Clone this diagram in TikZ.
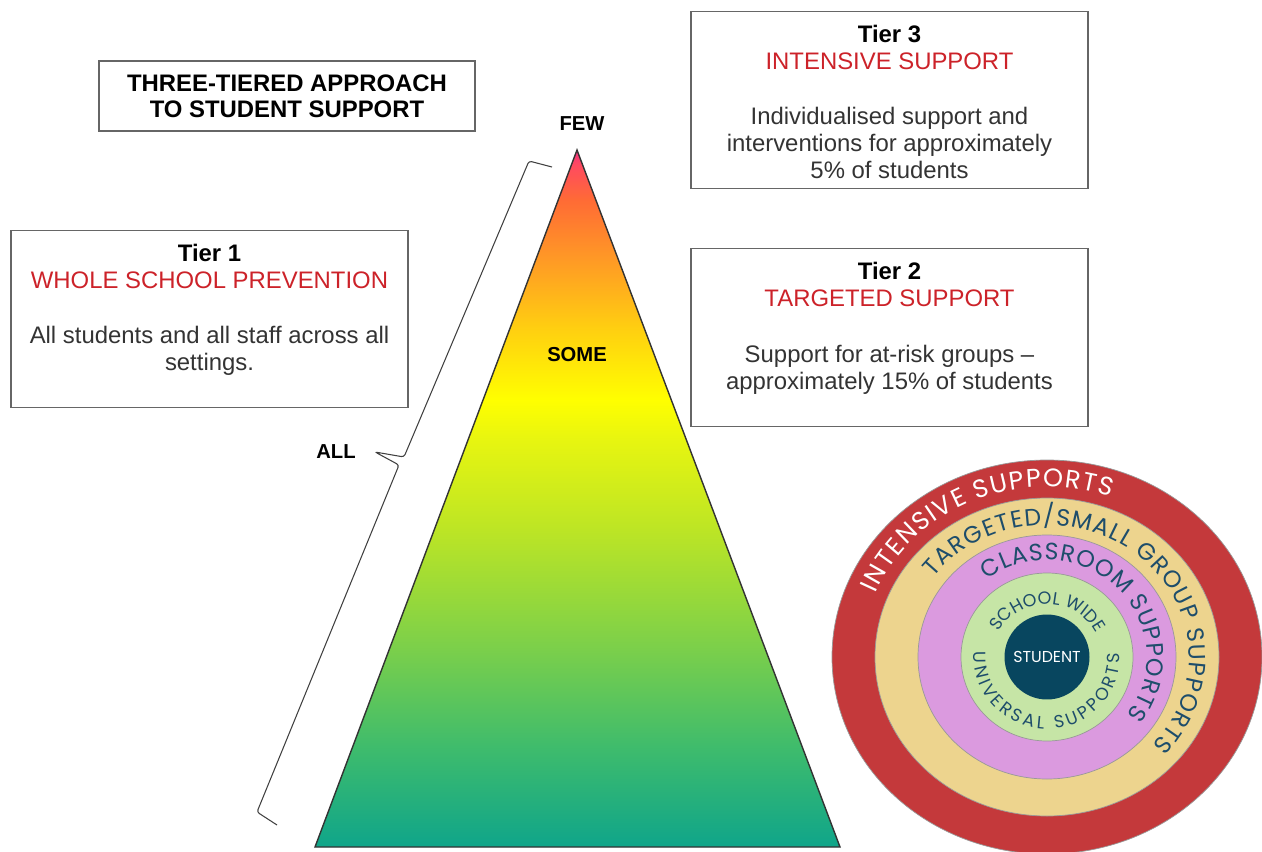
\documentclass[tikz,border=0pt]{standalone}
\usepackage{tikz}
\usepackage{xcolor}
\usepackage{fontspec}
\setmainfont{Liberation Sans}
\newfontfamily\ringfont{Poppins}
\usetikzlibrary{decorations.text,positioning}

\definecolor{tierred}{HTML}{CC2229}
\definecolor{bodygrey}{HTML}{333333}
\definecolor{boxgrey}{HTML}{666666}
\definecolor{ringred}{HTML}{C4393B}
\definecolor{ringtan}{HTML}{EDD48E}
\definecolor{ringpink}{HTML}{DB9ADF}
\definecolor{ringgreen}{HTML}{C6E5A6}
\definecolor{studentblue}{HTML}{08465F}
\definecolor{ringink}{HTML}{1E4D6B}
% pyramid colours, bottom to top
\definecolor{pyrA}{HTML}{0FA58A}
\definecolor{pyrB}{HTML}{3DBB6D}
\definecolor{pyrC}{HTML}{7ACF4B}
\definecolor{pyrD}{HTML}{BCE525}
\definecolor{pyrE}{HTML}{E7F510}
\definecolor{pyrF}{HTML}{FFFF00}
\definecolor{pyrG}{HTML}{FFD010}
\definecolor{pyrH}{HTML}{FF9A25}
\definecolor{pyrI}{HTML}{FF6B35}
\definecolor{pyrJ}{HTML}{FF4A60}
\definecolor{pyrK}{HTML}{F0307F}

\pgfdeclareverticalshading{pyramid}{100bp}{color(0bp)=(pyrA); color(25bp)=(pyrA);
  color(31.96bp)=(pyrB); color(39.13bp)=(pyrC); color(47.74bp)=(pyrD);
  color(54.2bp)=(pyrE); color(57.07bp)=(pyrF); color(62.09bp)=(pyrG);
  color(67.11bp)=(pyrH); color(71.41bp)=(pyrI); color(73.92bp)=(pyrJ);
  color(75bp)=(pyrK); color(100bp)=(pyrK)}

\begin{document}
\begin{tikzpicture}[x=0.02cm,y=0.02cm]
        \useasboundingbox (0,0) rectangle (1262,-852);
        \tikzstyle{tierbox}=[rectangle,draw=boxgrey,line width=0.7pt,
        minimum width=7.94cm,minimum height=3.55cm,inner sep=0pt]
        \tikzstyle{tiertext}=[align=center,inner sep=0pt,text=bodygrey,
        font=\fontsize{13.6}{15.4}\selectfont]
        \tikzstyle{level}=[inner sep=0pt,font=\bfseries\fontsize{11.5}{13}\selectfont]
        \tikzstyle{ring}=[draw=black!40,line width=0.4pt]

        % title
        \node at (287,-96) [rectangle,draw=boxgrey,line width=0.7pt,minimum width=7.52cm,
        minimum height=1.4cm,align=center,font=\bfseries\fontsize{13.6}{14.8}\selectfont]
        (title) {THREE-TIERED APPROACH\\TO STUDENT SUPPORT};

        % pyramid
        \coordinate (apex) at (577,-150);
        \coordinate (baseL) at (315,-847);
        \coordinate (baseR) at (840,-847);
        \shade[shading=pyramid,draw=black!80,line width=0.8pt] (apex) -- (baseL) -- (baseR) -- cycle;
        \node at (582,-124) [level] (few) {FEW};
        \node at (577,-355) [level] (some) {SOME};
        \node at (336,-452) [level] (all) {ALL};

        % brace along the left side
        \coordinate (hookT) at (552,-167);
        \coordinate (spineT) at (529,-161);
        \coordinate (kinkT) at (404,-457);
        \coordinate (tip) at (375,-452);
        \coordinate (kinkB) at (399,-465);
        \coordinate (spineB) at (257,-812);
        \coordinate (hookB) at (277,-825);
        \draw[black!75,line width=0.6pt,rounded corners=1.5pt] (hookT) -- (spineT) -- (kinkT) -- (tip)
        -- (kinkB) -- (spineB) -- (hookB);

        % tier boxes
        \node at (209.5,-319) [tierbox] (tier1) {};
        \node [tiertext,below=0.28cm of tier1.north] (tier1text) {\textcolor{black}{\textbf{Tier 1}}\\
        \textcolor{tierred}{WHOLE SCHOOL PREVENTION}\\[16pt]
        All students and all staff across all\\settings.};
        \node at (889.5,-100) [tierbox] (tier3) {};
        \node [tiertext,below=0.28cm of tier3.north] (tier3text) {\textcolor{black}{\textbf{Tier 3}}\\
        \textcolor{tierred}{INTENSIVE SUPPORT}\\[16pt]
        Individualised support and\\interventions for approximately\\5\% of students};
        \node at (889.5,-337.5) [tierbox] (tier2) {};
        \node [tiertext,below=0.28cm of tier2.north] (tier2text) {\textcolor{black}{\textbf{Tier 2}}\\
        \textcolor{tierred}{TARGETED SUPPORT}\\[16pt]
        Support for at-risk groups \textendash\\approximately 15\% of students};

        % support rings
        \coordinate (ctr) at (1047,-657);
        \fill[ringred,ring] (ctr) ellipse[x radius=215,y radius=197];
        \fill[ringtan,ring] (ctr) ellipse[x radius=172,y radius=159];
        \fill[ringpink,ring] (ctr) ellipse[x radius=129,y radius=122];
        \fill[ringgreen,ring] (ctr) ellipse[x radius=86,y radius=84];
        \node at (ctr) [circle,fill=studentblue,minimum size=1.7cm,inner sep=0pt,text=white,
        font=\ringfont\fontsize{9}{10}\selectfont] (student) {STUDENT};

        \path[decorate,decoration={text along path,text align={fit to path},text color=white,
        text={|\ringfont\fontsize{14.5}{16}\selectfont|INTENSIVE SUPPORTS}}]
        (ctr) ++(158:185 and 170) arc[start angle=158,end angle=70,x radius=185,y radius=170];
        \path[decorate,decoration={text along path,text align={fit to path},text color=ringink,
        text={|\ringfont\fontsize{13.5}{15}\selectfont|TARGETED/SMALL GROUP SUPPORTS}}]
        (ctr) ++(143:142 and 132) arc[start angle=143,end angle=-42,x radius=142,y radius=132];
        \path[decorate,decoration={text along path,text align={fit to path},text color=ringink,
        text={|\ringfont\fontsize{13.5}{15}\selectfont|CLASSROOM SUPPORTS}}]
        (ctr) ++(127:100 and 97) arc[start angle=127,end angle=-37,x radius=100,y radius=97];
        \path[decorate,decoration={text along path,text align={fit to path},text color=ringink,
        text={|\ringfont\fontsize{10}{12}\selectfont|SCHOOL WIDE}}]
        (ctr) ++(152:55 and 53) arc[start angle=152,end angle=28,x radius=55,y radius=53];
        \path[decorate,decoration={text along path,text align={fit to path},text color=ringink,
        text={|\ringfont\fontsize{10}{12}\selectfont|UNIVERSAL SUPPORTS}}]
        (ctr) ++(176:73 and 72) arc[start angle=176,end angle=363,x radius=73,y radius=72];
      \end{tikzpicture}
\end{document}
